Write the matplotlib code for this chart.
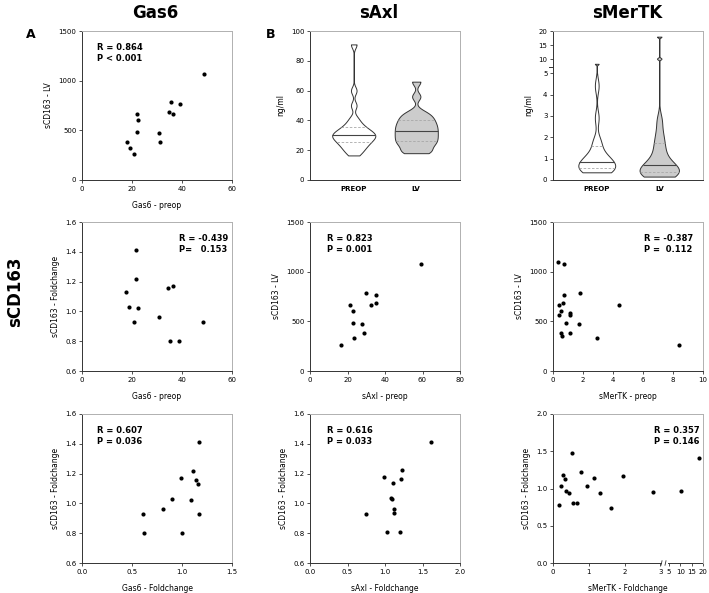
import numpy as np
import matplotlib
matplotlib.use('Agg')
import matplotlib.pyplot as plt
from matplotlib import mlab
import matplotlib.transforms as mtransforms

plt.rcParams['font.family'] = ['DejaVu Sans']

# ---------------- data ----------------
gas6_preop_lv_x = [17.9, 19.0, 20.9, 21.8, 22.5, 21.8, 30.9, 31.1, 34.8, 35.6, 36.5, 39.0, 48.9]
gas6_preop_lv_y = [379, 325, 258, 661, 601, 487, 473, 379, 681, 785, 664, 762, 1070]

gas6_preop_fc_x = [17.7, 18.7, 20.9, 21.5, 21.6, 22.4, 30.6, 34.4, 35.3, 36.4, 38.7, 48.5]
gas6_preop_fc_y = [1.13, 1.03, 0.93, 1.41, 1.22, 1.02, 0.96, 1.16, 0.80, 1.17, 0.80, 0.93]

gas6_fc_x = [0.606, 0.623, 0.814, 0.904, 0.991, 1.004, 1.085, 1.111, 1.135, 1.155, 1.165, 1.165]
gas6_fc_y = [0.93, 0.80, 0.96, 1.03, 1.17, 0.80, 1.02, 1.22, 1.16, 1.13, 1.41, 0.93]

saxl_preop_x = [16.7, 21.5, 22.9, 22.9, 23.5, 27.6, 28.6, 30.0, 32.4, 35.4, 35.4, 59.2]
saxl_preop_y = [258, 661, 604, 487, 332, 477, 383, 789, 668, 765, 681, 1074]

saxl_fc_x = [0.751, 0.982, 1.031, 1.084, 1.098, 1.111, 1.116, 1.116, 1.196, 1.218, 1.231, 1.609]
saxl_fc_y = [0.93, 1.175, 0.806, 1.036, 1.03, 1.135, 0.965, 0.933, 0.806, 1.166, 1.224, 1.414]

smertk_preop_x = [0.36, 0.76, 0.40, 0.72, 0.69, 0.51, 0.40, 1.12, 1.12, 1.79, 0.89, 1.72,
                  0.54, 0.63, 1.12, 2.91, 4.41, 8.37]
smertk_preop_y = [1097, 1074, 661, 765, 681, 604, 560, 580, 564, 789, 487, 477,
                  383, 356, 383, 332, 668, 258]

smertk_fc_x = [0.178, 0.215, 0.29, 0.336, 0.374, 0.44, 0.54, 0.56, 0.68, 0.776, 0.963, 1.14,
               1.31, 1.61, 1.94, 2.78, 10.4, 18.2]
smertk_fc_y = [0.777, 1.04, 1.179, 1.125, 0.969, 0.9375, 1.478, 0.808, 0.808, 1.228, 1.027, 1.138,
               0.9375, 0.737, 1.165, 0.955, 0.969, 1.415]

saxl_violin_preop = [16.5, 19.0, 20.5, 22.0, 23.5, 24.5, 25.5, 26.5, 27.5, 28.3, 29.0, 29.7,
                     30.4, 31.1, 31.9, 32.8, 33.8, 35.0, 36.5, 38.5, 41.5, 50.0, 60.0, 91.0]
saxl_violin_lv = [18.0, 18.8, 20.0, 22.5, 23.7, 25.0, 26.2, 27.4, 28.6, 29.8, 31.0, 32.2,
                  33.4, 34.6, 35.8, 37.0, 38.3, 39.6, 41.0, 42.5, 44.0, 46.0, 56.0, 66.0]
smertk_violin_preop = smertk_preop_x
smertk_violin_lv = [0.16, 0.2, 0.25, 0.3, 0.37, 0.42, 0.5, 0.6, 0.68, 0.76, 0.95, 1.2,
                    1.5, 1.8, 2.2, 2.8, 10.2, 18.0]

violin_groups = ['PREOP', 'LV']

stats_text = {
    (0, 0): ('R = 0.864', 'P < 0.001'),
    (1, 0): ('R = -0.439', 'P=   0.153'),
    (2, 0): ('R = 0.607', 'P = 0.036'),
    (1, 1): ('R = 0.823', 'P = 0.001'),
    (2, 1): ('R = 0.616', 'P = 0.033'),
    (1, 2): ('R = -0.387', 'P =  0.112'),
    (2, 2): ('R = 0.357', 'P = 0.146'),
}
stats_x = {(0, 0): 0.10, (1, 0): 0.647, (2, 0): 0.10, (1, 1): 0.113, (2, 1): 0.113,
           (1, 2): 0.61, (2, 2): 0.67}

# ---------------- figure ----------------
W, H = 709, 593
fig = plt.figure(figsize=(W / 100, H / 100), dpi=100)

col_left = [82, 310, 553]
row_top = [31, 222, 414]
aw, ah = 150, 149


def make_ax(r, c):
    l = col_left[c] / W
    b = 1 - (row_top[r] + ah) / H
    return fig.add_axes([l, b, aw / W, ah / H])


def style(ax):
    for s in ['top', 'right']:
        ax.spines[s].set_color('#b0b0b0')
        ax.spines[s].set_linewidth(0.7)
    for s in ['left', 'bottom']:
        ax.spines[s].set_color('#333333')
        ax.spines[s].set_linewidth(0.7)
    ax.tick_params(length=2.5, width=0.6, labelsize=5, pad=1.5, color='#333333',
                   top=False, right=False)
    ax.xaxis.label.set_size(5.5)
    ax.yaxis.label.set_size(5.5)


def piecewise(xp, fp):
    xp = np.asarray(xp, float)
    fp = np.asarray(fp, float)

    def f(x):
        x = np.asarray(x, float)
        y = np.interp(x, xp, fp)
        y = np.where(x < xp[0], fp[0] + (x - xp[0]) * (fp[1] - fp[0]) / (xp[1] - xp[0]), y)
        y = np.where(x > xp[-1], fp[-1] + (x - xp[-1]) * (fp[-1] - fp[-2]) / (xp[-1] - xp[-2]), y)
        return y
    return f


def scatter(ax, x, y):
    ax.scatter(x, y, s=9, color='black', linewidths=0, zorder=3)


def add_stats(ax, key):
    r_txt, p_txt = stats_text[key]
    x = stats_x[key]
    ax.text(x, 0.89, r_txt, transform=ax.transAxes, fontsize=6, fontweight='bold', va='center')
    ax.text(x, 0.817, p_txt, transform=ax.transAxes, fontsize=6, fontweight='bold', va='center')


def violin(ax, data, pos, width, bw, face):
    data = np.asarray(data, float)
    factor = bw / data.std(ddof=1)
    parts = ax.violinplot([data], positions=[pos], widths=width, bw_method=factor,
                          showextrema=False, points=800)
    body = parts['bodies'][0]
    body.set_facecolor(face)
    body.set_edgecolor('#333333')
    body.set_alpha(1)
    body.set_linewidth(0.7)
    kde = mlab.GaussianKDE(data, factor)
    coords = np.linspace(data.min(), data.max(), 800)
    vals = kde.evaluate(coords)
    scale = 0.5 * width / vals.max()
    q1, med, q3 = np.percentile(data, [25, 50, 75])
    for q, ls, col, lw in [(q1, (0, (3, 2)), '#a8a8a8', 0.6), (q3, (0, (3, 2)), '#a8a8a8', 0.6),
                           (med, '-', '#444444', 0.8)]:
        hw = kde.evaluate(np.array([q]))[0] * scale
        ax.hlines(q, pos - hw, pos + hw, colors=col, linestyles=ls, linewidth=lw, zorder=3)


# Row 1, col 1
ax = make_ax(0, 0)
scatter(ax, gas6_preop_lv_x, gas6_preop_lv_y)
ax.set_xlim(0, 60); ax.set_ylim(0, 1500)
ax.set_xticks([0, 20, 40, 60]); ax.set_yticks([0, 500, 1000, 1500])
ax.set_xlabel('Gas6 - preop', labelpad=7)
ax.set_ylabel('sCD163 - LV', labelpad=4)
style(ax); add_stats(ax, (0, 0))

# Row 2, col 1
ax = make_ax(1, 0)
scatter(ax, gas6_preop_fc_x, gas6_preop_fc_y)
ax.set_xlim(0, 60); ax.set_ylim(0.6, 1.6)
ax.set_xticks([0, 20, 40, 60]); ax.set_yticks([0.6, 0.8, 1.0, 1.2, 1.4, 1.6])
ax.set_yticklabels(['0.6', '0.8', '1.0', '1.2', '1.4', '1.6'])
ax.set_xlabel('Gas6 - preop', labelpad=7)
ax.set_ylabel('sCD163 - Foldchange', labelpad=4)
style(ax); add_stats(ax, (1, 0))

# Row 3, col 1
ax = make_ax(2, 0)
scatter(ax, gas6_fc_x, gas6_fc_y)
ax.set_xlim(0, 1.5); ax.set_ylim(0.6, 1.6)
ax.set_xticks([0, 0.5, 1.0, 1.5]); ax.set_xticklabels(['0.0', '0.5', '1.0', '1.5'])
ax.set_yticks([0.6, 0.8, 1.0, 1.2, 1.4, 1.6])
ax.set_yticklabels(['0.6', '0.8', '1.0', '1.2', '1.4', '1.6'])
ax.set_xlabel('Gas6 - Foldchange', labelpad=7)
ax.set_ylabel('sCD163 - Foldchange', labelpad=4)
style(ax); add_stats(ax, (2, 0))

# Row 1, col 2: sAxl violin
ax = make_ax(0, 1)
violin(ax, saxl_violin_preop, 1, 0.69, 2.5, 'white')
violin(ax, saxl_violin_lv, 2, 0.69, 2.5, '#cccccc')
ax.set_xlim(0.3, 2.7); ax.set_ylim(0, 100)
ax.set_xticks([1, 2]); ax.set_xticklabels(violin_groups, fontweight='bold')
ax.set_yticks([0, 20, 40, 60, 80, 100])
ax.set_ylabel('ng/ml', labelpad=4)
style(ax)
ax.tick_params(axis='x', length=0, pad=4)

# Row 2, col 2
ax = make_ax(1, 1)
scatter(ax, saxl_preop_x, saxl_preop_y)
ax.set_xlim(0, 80); ax.set_ylim(0, 1500)
ax.set_xticks([0, 20, 40, 60, 80]); ax.set_yticks([0, 500, 1000, 1500])
ax.set_xlabel('sAxl - preop', labelpad=7)
ax.set_ylabel('sCD163 - LV', labelpad=4)
style(ax); add_stats(ax, (1, 1))

# Row 3, col 2
ax = make_ax(2, 1)
scatter(ax, saxl_fc_x, saxl_fc_y)
ax.set_xlim(0, 2.0); ax.set_ylim(0.6, 1.6)
ax.set_xticks([0, 0.5, 1.0, 1.5, 2.0]); ax.set_xticklabels(['0.0', '0.5', '1.0', '1.5', '2.0'])
ax.set_yticks([0.6, 0.8, 1.0, 1.2, 1.4, 1.6])
ax.set_yticklabels(['0.6', '0.8', '1.0', '1.2', '1.4', '1.6'])
ax.set_xlabel('sAxl - Foldchange', labelpad=7)
ax.set_ylabel('sCD163 - Foldchange', labelpad=4)
style(ax); add_stats(ax, (2, 1))

# Row 1, col 3: sMerTK violin with broken y axis
ax = make_ax(0, 2)
yf = piecewise([0, 5, 10, 20], [0, 5, 5.654, 6.977])
yi = piecewise([0, 5, 5.654, 6.977], [0, 5, 10, 20])
ax.set_yscale('function', functions=(yf, yi))
violin(ax, smertk_violin_preop, 1, 0.59, 0.33, 'white')
violin(ax, smertk_violin_lv, 2, 0.63, 0.33, '#cccccc')
ax.set_xlim(0.3, 2.7); ax.set_ylim(0, 20)
ax.set_xticks([1, 2]); ax.set_xticklabels(violin_groups, fontweight='bold')
ax.set_yticks([0, 1, 2, 3, 4, 5, 10, 15, 20])
ax.set_yticklabels(['0', '1', '2', '3', '4', '5', '10', '15', '20'])
ax.set_ylabel('ng/ml', labelpad=4)
style(ax)
ax.tick_params(axis='x', length=0, pad=4)
brk = 5.31 / 6.977
ax.plot([-0.03, 0.0], [brk, brk], transform=ax.transAxes, color='#333333', lw=0.7, clip_on=False)

# Row 2, col 3
ax = make_ax(1, 2)
scatter(ax, smertk_preop_x, smertk_preop_y)
ax.set_xlim(0, 10); ax.set_ylim(0, 1500)
ax.set_xticks([0, 2, 4, 6, 8, 10]); ax.set_yticks([0, 500, 1000, 1500])
ax.set_xlabel('sMerTK - preop', labelpad=7)
ax.set_ylabel('sCD163 - LV', labelpad=4)
style(ax); add_stats(ax, (1, 2))

# Row 3, col 3: broken x axis
ax = make_ax(2, 2)
xf = piecewise([0, 3, 5, 20], [0, 3, 3.234, 4.187])
xi = piecewise([0, 3, 3.234, 4.187], [0, 3, 5, 20])
ax.set_xscale('function', functions=(xf, xi))
scatter(ax, smertk_fc_x, smertk_fc_y)
ax.set_xlim(0, 20); ax.set_ylim(0, 2.0)
ax.set_xticks([0, 1, 2, 3, 5, 10, 15, 20])
ax.set_xticklabels(['0', '1', '2', '3', '5', '10', '15', '20'])
ax.set_yticks([0, 0.5, 1.0, 1.5, 2.0]); ax.set_yticklabels(['0.0', '0.5', '1.0', '1.5', '2.0'])
ax.set_xlabel('sMerTK - Foldchange', labelpad=7)
ax.set_ylabel('sCD163 - Foldchange', labelpad=4)
style(ax); add_stats(ax, (2, 2))
ax.spines['bottom'].set_visible(False)
tb = mtransforms.blended_transform_factory(ax.transData, ax.transAxes)
ax.plot([0, 3.03], [0, 0], transform=tb, color='#333333', lw=0.7, clip_on=False)
ax.plot([4.75, 20], [0, 0], transform=tb, color='#333333', lw=0.7, clip_on=False)
for xb in [3.25, 4.2]:
    ax.plot([xb - 0.12, xb + 0.12], [-0.015, 0.015], transform=tb, color='#333333', lw=0.6,
            clip_on=False)

# ---------------- figure texts ----------------
for xc, t in [(155, 'Gas6'), (379, 'sAxl'), (627, 'sMerTK')]:
    fig.text(xc / W, 1 - 13 / H, t, fontsize=12, fontweight='bold', ha='center', va='center')
fig.text(31 / W, 1 - 35 / H, 'A', fontsize=9, fontweight='bold', ha='center', va='center')
fig.text(271 / W, 1 - 35 / H, 'B', fontsize=9, fontweight='bold', ha='center', va='center')
fig.text(15 / W, 1 - 292 / H, 'sCD163', fontsize=12, fontweight='bold', rotation=90,
         ha='center', va='center')

fig.savefig('out.png', dpi=100)
